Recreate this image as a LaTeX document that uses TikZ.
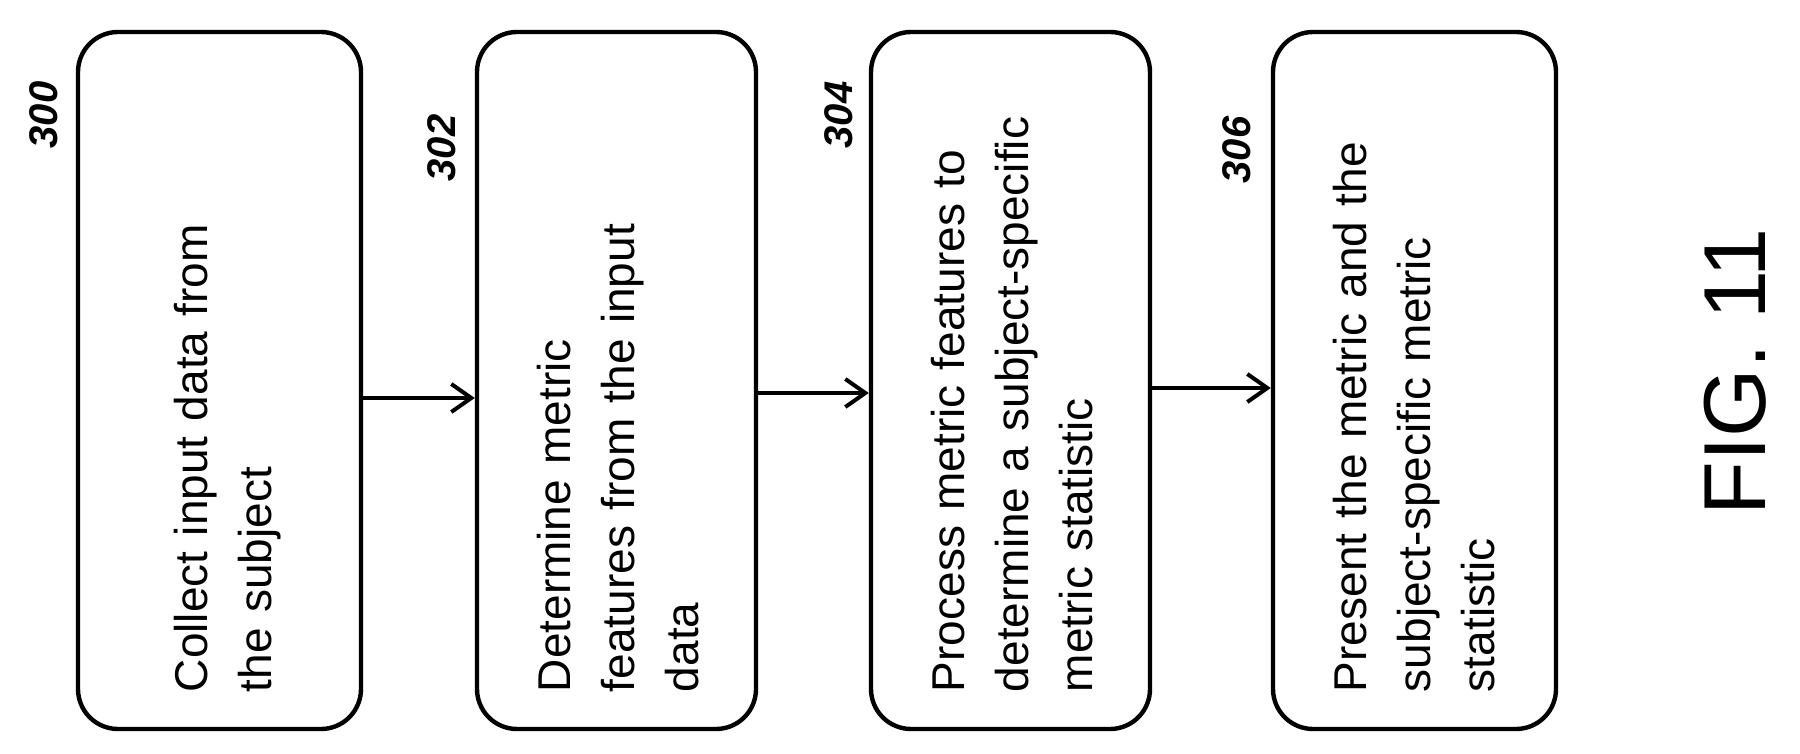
\documentclass[tikz,border=0pt]{standalone}
\usepackage{fontspec}
\setmainfont{Liberation Sans}
\usetikzlibrary{arrows.meta}
\begin{document}
\begin{tikzpicture}[x=0.5pt,y=-0.5pt,
  stepbox/.style={draw,line width=2.2pt,rounded corners=20pt},
  txt/.style={rotate=90,text width=310pt,align=left,font=\fontsize{23}{32}\selectfont,inner sep=0pt},
  lbl/.style={rotate=90,font=\fontsize{20}{24}\selectfont\itshape\bfseries},
  arr/.style={line width=2pt,-{Straight Barb[length=10pt,width=14pt,line width=2pt]}}]
\useasboundingbox (0,0) rectangle (1800,754);
\node[stepbox,minimum width=141.5pt,minimum height=348.5pt] (b1) at (219.5,380.5) {};
\node[stepbox,minimum width=139.5pt,minimum height=348.5pt] (b2) at (616.5,380.5) {};
\node[stepbox,minimum width=139.5pt,minimum height=348.5pt] (b3) at (1010.5,380.5) {};
\node[stepbox,minimum width=141.5pt,minimum height=348.5pt] (b4) at (1414.5,380.5) {};
\node[txt] (t1) at (228,382) {Collect input data from\\the subject};
\node[txt] (t2) at (618,382) {Determine metric\\features from the input\\data};
\node[txt] (t3) at (1012,382) {Process metric features to\\determine a subject-specific\\metric statistic};
\node[txt] (t4) at (1414,382) {Present the metric and the\\subject-specific metric\\statistic};
\draw[arr] (b1.east |- 0,398) coordinate (a1) -- (b2.west |- a1);
\draw[arr] (b2.east |- 0,393) coordinate (a2) -- (b3.west |- a2);
\draw[arr] (b3.east |- 0,388) coordinate (a3) -- (b4.west |- a3);
\node[lbl] (l1) at (44,115) {300};
\node[lbl] (l2) at (442,148) {302};
\node[lbl] (l3) at (839,115) {304};
\node[lbl] (l4) at (1237,150) {306};
\node[rotate=90,font=\fontsize{44}{50}\selectfont] (fig) at (1735,372) {FIG. 11};
\end{tikzpicture}
\end{document}
